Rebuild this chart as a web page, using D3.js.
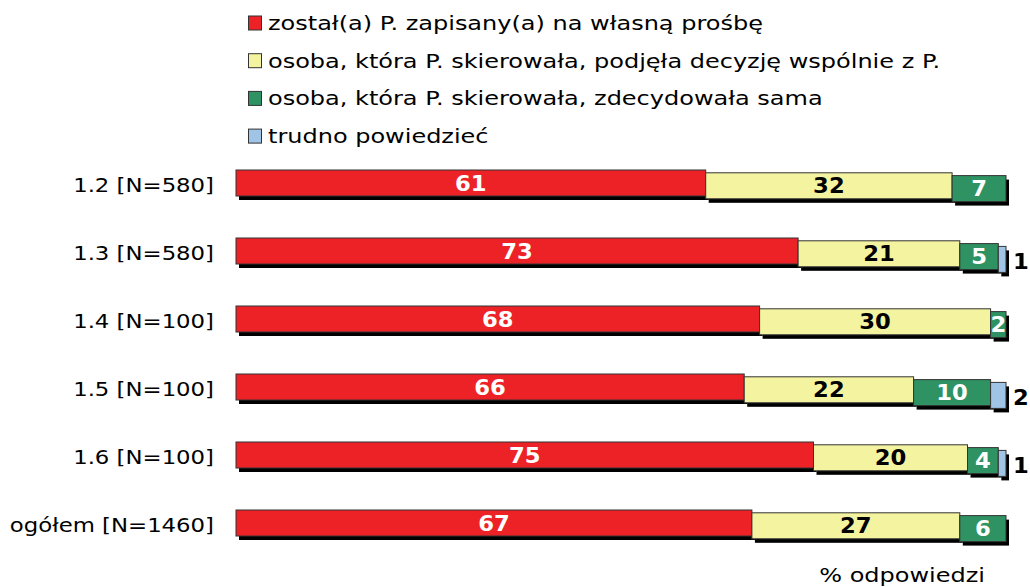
<!DOCTYPE html>
<html>
<head>
<meta charset="utf-8">
<script src="https://cdn.jsdelivr.net/npm/d3@7"></script>
<style>
  body { margin: 0; background: #fff; }
  svg text { font-family: Verdana, "DejaVu Sans", sans-serif; }
</style>
</head>
<body>
<svg id="chart" width="1030" height="587"></svg>
<script>
const categories = ['1.2 [N=580]', '1.3 [N=580]', '1.4 [N=100]', '1.5 [N=100]', '1.6 [N=100]', 'ogółem [N=1460]'];
const seriesNames = [
  'został(a) P. zapisany(a) na własną prośbę',
  'osoba, która P. skierowała, podjęła decyzję wspólnie z P.',
  'osoba, która P. skierowała, zdecydowała sama',
  'trudno powiedzieć'
];
const ownRequest = [61, 73, 68, 66, 75, 67];
const jointDecision = [32, 21, 30, 22, 20, 27];
const referrerAlone = [7, 5, 2, 10, 4, 6];
const hardToSay = [0, 1, 0, 2, 1, 0];
const colors = ['#ed2226', '#f4f4a0', '#2e9262', '#a0c4e6'];
const labelColors = ['#fff', '#000', '#fff', '#000'];

const keys = ['a', 'b', 'c', 'd'];
const rows = categories.map((c, i) => ({
  cat: c, a: ownRequest[i], b: jointDecision[i], c: referrerAlone[i], d: hardToSay[i]
}));
const stacked = d3.stack().keys(keys)(rows);

const svg = d3.select('#chart');
const x = d3.scaleLinear().domain([0, 100]).range([236, 1006]);
const y = d3.scaleBand().domain(categories).range([170, 536]).paddingInner(42 / 68);
const step = 2.8; // each segment sits a little lower than the previous one
const shadow = 4;
// the original text is a bit wider than DejaVu, stretch it horizontally
const stretch = 1.2;

// category labels
svg.append('g')
  .selectAll('text')
  .data(categories)
  .join('text')
  .attr('transform', d => `translate(214,${y(d) + y.bandwidth() / 2 + 2}) scale(${stretch},1)`)
  .attr('dy', '0.35em')
  .attr('text-anchor', 'end')
  .attr('font-size', 19)
  .attr('fill', '#000')
  .text(d => d);

stacked.forEach((layer, k) => {
  const g = svg.append('g');
  const segs = layer.map((s, i) => ({ x0: s[0], x1: s[1], v: s[1] - s[0], cat: categories[i] }))
    .filter(s => s.v > 0);
  g.selectAll('rect.shadow')
    .data(segs)
    .join('rect')
    .attr('x', d => x(d.x0) + 3)
    .attr('y', d => y(d.cat) + k * step + shadow)
    .attr('width', d => x(d.x1) - x(d.x0))
    .attr('height', y.bandwidth())
    .attr('fill', '#000');
  g.selectAll('rect.seg')
    .data(segs)
    .join('rect')
    .attr('x', d => x(d.x0))
    .attr('y', d => y(d.cat) + k * step)
    .attr('width', d => x(d.x1) - x(d.x0))
    .attr('height', y.bandwidth())
    .attr('fill', colors[k])
    .attr('stroke', '#333')
    .attr('stroke-width', 1);
  g.selectAll('text')
    .data(segs)
    .join('text')
    .attr('transform', d => {
      const tx = k === 3 ? x(d.x1) + 7 : (x(d.x0) + x(d.x1)) / 2;
      const ty = y(d.cat) + k * step + y.bandwidth() / 2 + (k === 3 ? 2 : 0);
      return `translate(${tx},${ty}) scale(1.08,1)`;
    })
    .attr('dy', '0.36em')
    .attr('text-anchor', k === 3 ? 'start' : 'middle')
    .attr('font-size', 21)
    .attr('font-weight', 'bold')
    .attr('fill', labelColors[k])
    .text(d => d.v);
});

// legend
const legend = svg.append('g')
  .selectAll('g')
  .data(seriesNames)
  .join('g')
  .attr('transform', (d, i) => `translate(248,${23 + i * 37.7})`);
legend.append('rect')
  .attr('x', 0.5).attr('y', -7)
  .attr('width', 13).attr('height', 14)
  .attr('fill', (d, i) => colors[i])
  .attr('stroke', '#333');
legend.append('text')
  .attr('transform', `translate(20,0) scale(${stretch},1)`)
  .attr('dy', '0.35em')
  .attr('font-size', 20)
  .text(d => d);

svg.append('text')
  .attr('transform', `translate(985,575) scale(${stretch},1)`)
  .attr('dy', '0.35em')
  .attr('text-anchor', 'end')
  .attr('font-size', 20)
  .text('% odpowiedzi');
</script>
</body>
</html>
